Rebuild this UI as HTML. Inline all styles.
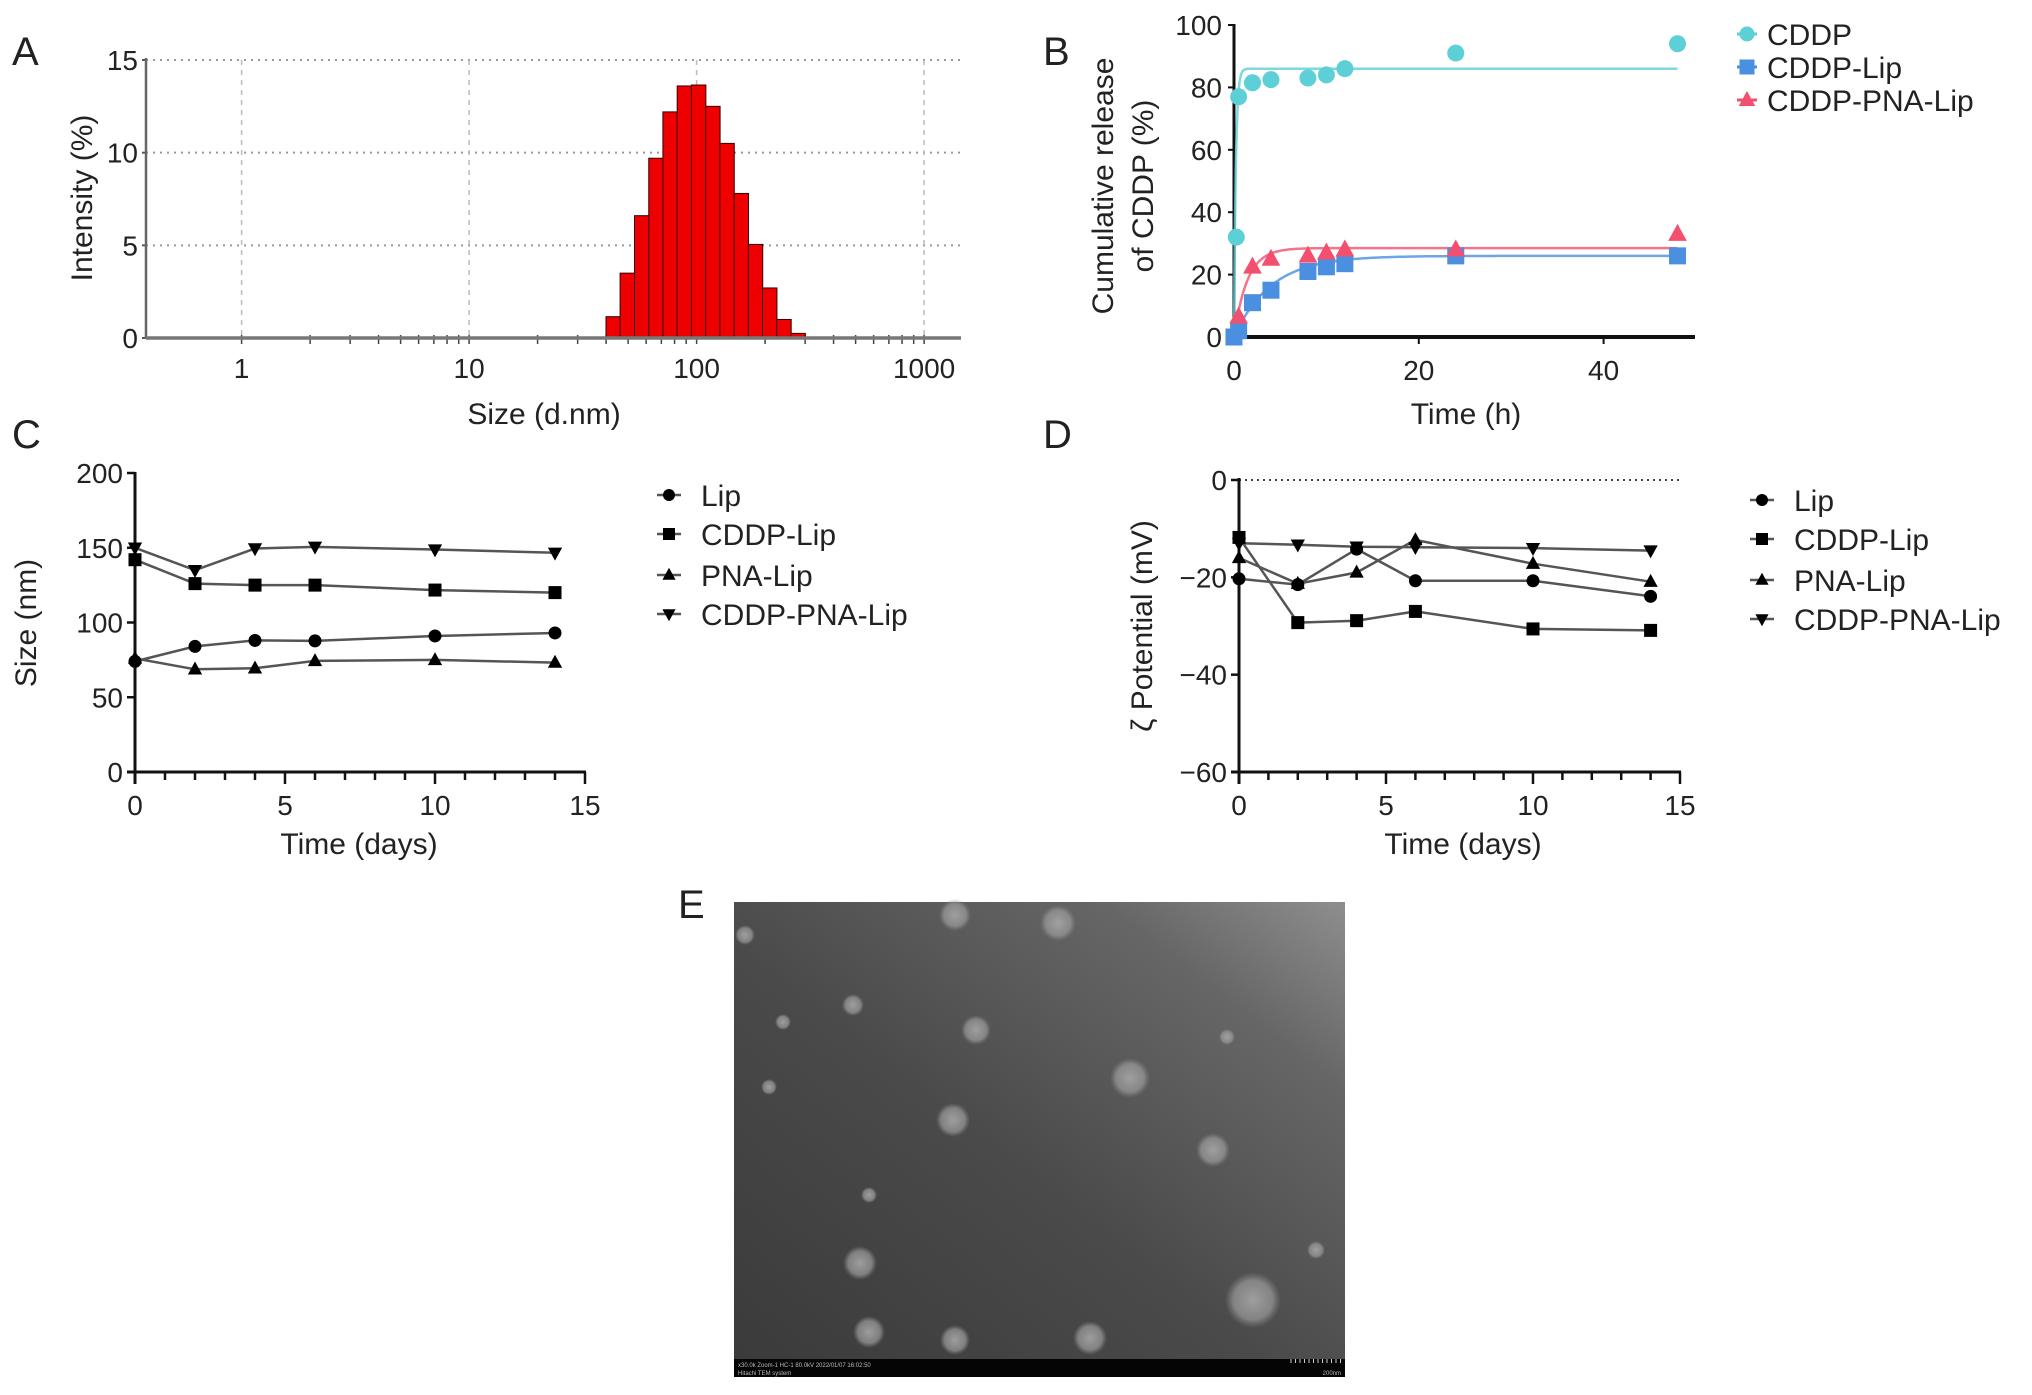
<!DOCTYPE html>
<html><head><meta charset="utf-8"><style>
html,body{margin:0;padding:0;background:#fff}
svg text{font-family:"Liberation Sans",sans-serif;fill:#222}
</style></head><body>
<svg id="fig" xmlns="http://www.w3.org/2000/svg" width="2032" height="1390" viewBox="0 0 2032 1390">
<rect width="2032" height="1390" fill="#fff"/>
<text x="12" y="65" font-size="40">A</text>
<text x="1043" y="65" font-size="40">B</text>
<text x="12" y="448" font-size="40">C</text>
<text x="1043" y="448" font-size="40">D</text>
<text x="678" y="918" font-size="40">E</text>
<text x="544" y="424" font-size="30" text-anchor="middle">Size (d.nm)</text>
<text transform="translate(92,198) rotate(-90)" font-size="30" text-anchor="middle">Intensity (%)</text>
<text x="1466" y="424" font-size="30" text-anchor="middle">Time (h)</text>
<text transform="translate(1113,186) rotate(-90)" font-size="30" text-anchor="middle">Cumulative release</text>
<text transform="translate(1153,186) rotate(-90)" font-size="30" text-anchor="middle">of CDDP (%)</text>
<text x="359" y="854" font-size="30" text-anchor="middle">Time (days)</text>
<text transform="translate(36,623) rotate(-90)" font-size="30" text-anchor="middle">Size (nm)</text>
<text x="1463" y="854" font-size="30" text-anchor="middle">Time (days)</text>
<text transform="translate(1152,626) rotate(-90)" font-size="30" text-anchor="middle">ζ Potential (mV)</text>
<defs>
<linearGradient id="temg" x1="0" y1="1" x2="1" y2="0">
<stop offset="0" stop-color="#3a3a3a"/><stop offset="0.45" stop-color="#4a4a4a"/><stop offset="0.8" stop-color="#666"/><stop offset="1" stop-color="#8e8e8e"/>
</linearGradient>
<radialGradient id="pg"><stop offset="0" stop-color="#a8a8a8" stop-opacity="0.9"/><stop offset="0.7" stop-color="#9a9a9a" stop-opacity="0.7"/><stop offset="1" stop-color="#888" stop-opacity="0"/></radialGradient>
</defs>
<g id="tem">
<rect x="734" y="902" width="611" height="475" fill="url(#temg)"/>
<rect x="734" y="1359" width="611" height="18" fill="#050505"/>
<text x="738" y="1367" font-size="6" style="fill:#bbb">x30.0k Zoom-1 HC-1 80.0kV 2022/01/07 16:02:50</text>
<text x="738" y="1375" font-size="6" style="fill:#bbb">Hitachi TEM system</text>
<text x="1341" y="1375" font-size="6" text-anchor="end" style="fill:#bbb">200nm</text>
</g>
<g id="pa"></g><g id="pb"></g><g id="pc"></g><g id="pd"></g>
</svg>
<script>
const aSizes = [43.0, 49.6, 57.4, 66.3, 76.5, 88.4, 102.1, 117.9, 136.1, 157.2, 181.5, 209.6, 242.1, 279.5];
const aIntensity = [1.15, 3.5, 6.6, 9.7, 12.2, 13.6, 13.65, 12.5, 10.5, 7.8, 5.05, 2.7, 1.0, 0.25];
const aYTicks = [0, 5, 10, 15];
const aXTicks = [1, 10, 100, 1000];
const bTimes = [0.25, 0.5, 2, 4, 8, 10, 12, 24, 48];
const bCDDP = [32, 77, 81.5, 82.5, 83, 84, 86, 91, 94];
const bTimesLip = [0, 0.5, 2, 4, 8, 10, 12, 24, 48];
const bCDDPLip = [0, 2, 11, 15, 21, 22.5, 23.5, 26, 26];
const bTimesPNA = [0.5, 2, 4, 8, 10, 12, 24, 48];
const bCDDPPNA = [6.5, 22.5, 25, 26, 27, 28, 28, 33];
const bFitPlateau = [86, 26, 28.5];
const bFitRate = [5, 0.25, 0.7];
const bYTicks = [0, 20, 40, 60, 80, 100];
const bXTicks = [0, 20, 40];
const bSeriesNames = ["CDDP", "CDDP-Lip", "CDDP-PNA-Lip"];
const cDays = [0, 2, 4, 6, 10, 14];
const cLip = [74, 84, 88, 87.7, 91, 93];
const cCDDPLip = [142, 126, 125, 125, 121.7, 120];
const cPNALip = [76, 68.7, 69.4, 74.3, 75, 73.2];
const cCDDPPNALip = [150, 135, 149.5, 150.6, 148.8, 146.6];
const cYTicks = [0, 50, 100, 150, 200];
const cXTicks = [0, 5, 10, 15];
const dDays = [0, 2, 4, 6, 10, 14];
const dLip = [-20.3, -21.5, -14.2, -20.7, -20.7, -23.9];
const dCDDPLip = [-11.8, -29.3, -28.9, -27, -30.6, -30.9];
const dPNALip = [-16, -21.3, -19, -12.3, -17.2, -20.9];
const dCDDPPNALip = [-13, -13.3, -13.7, -13.8, -14, -14.5];
const dYTicks = [0, -20, -40, -60];
const dXTicks = [0, 5, 10, 15];
const lineNames = ["Lip", "CDDP-Lip", "PNA-Lip", "CDDP-PNA-Lip"];
const temParticles = [[955,915,16],[1058,923,18],[853,1005,11],[783,1022,8],[976,1030,15],[1130,1078,20],[769,1087,8],[953,1120,17],[1213,1150,17],[869,1195,8],[860,1263,17],[1253,1300,28],[869,1332,16],[955,1340,15],[1090,1338,17],[1316,1250,9],[1227,1037,8],[745,935,10]];

const NS = "http://www.w3.org/2000/svg";
function mk(parent, tag, attrs) {
  const e = document.createElementNS(NS, tag);
  for (const k in attrs) e.setAttribute(k, attrs[k]);
  parent.appendChild(e);
  return e;
}
function txt(parent, x, y, s, size, anchor) {
  const t = mk(parent, "text", {x: x, y: y, "font-size": size, "text-anchor": anchor || "middle"});
  t.textContent = s;
  return t;
}
const tem = document.getElementById("tem");
temParticles.forEach(p => {
  const c = mk(tem, "circle", {cx: p[0], cy: p[1], r: p[2], fill: "url(#pg)"});
  
  
});
for (let i = 0; i < 12; i++) {
  const t = mk(tem, "line", {x1: 1291 + i * 4.5, y1: 1359, x2: 1291 + i * 4.5, y2: 1363, stroke: "#ccc", "stroke-width": 1});
  
  
}
const pa = document.getElementById("pa");
const xA = s => 241.6 + 227.5 * Math.log10(s);
const yA = v => 338 - v * (278 / 15);
const halfBinA = 0.0635 / 2;
aYTicks.forEach(v => {
  if (v > 0) {
    const g = mk(pa, "line", {x1: 146, x2: 960, y1: yA(v), y2: yA(v), stroke: "#999", "stroke-width": 2, "stroke-dasharray": "2,5"});
    
    
  }
  const t = txt(pa, 138, yA(v) + 10, String(v), 28, "end");
  
  
  const tk = mk(pa, "line", {x1: 142, x2: 146, y1: yA(v), y2: yA(v), stroke: "#555", "stroke-width": 2});
  
  
});
aXTicks.forEach(s => {
  const g = mk(pa, "line", {x1: xA(s), x2: xA(s), y1: 60, y2: 338, stroke: "#bbb", "stroke-width": 1.5, "stroke-dasharray": "5,5"});
  
  
  const t = txt(pa, xA(s), 378, String(s), 28);
  
  
});
for (let d = 0; d < 4; d++) {
  for (let m = 1; m <= 9; m++) {
    const x = xA(Math.pow(10, d) * m);
    if (x < 146 || x > 960) continue;
    const tk = mk(pa, "line", {x1: x, x2: x, y1: 335, y2: 344, stroke: "#444", "stroke-width": 1.5});
    
    
  }
}
aSizes.forEach((s, i) => {
  const l = Math.log10(s);
  const x0 = xA(Math.pow(10, l - halfBinA)), x1 = xA(Math.pow(10, l + halfBinA));
  const r = mk(pa, "rect", {x: x0, y: yA(aIntensity[i]), width: x1 - x0, height: yA(0) - yA(aIntensity[i]), fill: "#ee0000", stroke: "#300", "stroke-width": 1});
  
  
});
const aY = mk(pa, "line", {x1: 146, x2: 146, y1: 58, y2: 339, stroke: "#666", "stroke-width": 2.5});


const aX = mk(pa, "line", {x1: 146, x2: 961, y1: 338, y2: 338, stroke: "#777", "stroke-width": 3.5});



const pb = document.getElementById("pb");
const xB = t => 1234 + t * 9.24;
const yB = v => 337 - v * 3.12;
const bColors = ["#5dcfd6", "#4a8fe0", "#f2506e"];
bYTicks.forEach(v => {
  const t = txt(pb, 1222, yB(v) + 10, String(v), 28, "end");
  
  
  const tk = mk(pb, "line", {x1: 1228, x2: 1234, y1: yB(v), y2: yB(v), stroke: "#111", "stroke-width": 2});
  
  
});
bXTicks.forEach(v => {
  const t = txt(pb, xB(v), 380, String(v), 28);
  
  
  const tk = mk(pb, "line", {x1: xB(v), x2: xB(v), y1: 337, y2: 344, stroke: "#111", "stroke-width": 2});
  
  
});
const bXAx = mk(pb, "line", {x1: 1233, x2: 1695, y1: 337, y2: 337, stroke: "#111", "stroke-width": 4});


const bYAx = mk(pb, "line", {x1: 1234, x2: 1234, y1: 24, y2: 339, stroke: "#111", "stroke-width": 3});


bFitPlateau.forEach((p, si) => {
  let d = "";
  for (let i = 0; i <= 480; i++) {
    const t = i * 0.1;
    const v = p * (1 - Math.exp(-bFitRate[si] * t));
    d += (i ? "L" : "M") + xB(t).toFixed(1) + "," + yB(v).toFixed(1);
  }
  const path = mk(pb, "path", {d: d, fill: "none", stroke: bColors[si], "stroke-width": 2.5, opacity: 0.8});
  
  
});
function marker(parent, type, x, y, size, color) {
  let e;
  if (type === "circle") e = mk(parent, "circle", {cx: x, cy: y, r: size / 2, fill: color});
  else if (type === "square") e = mk(parent, "rect", {x: x - size / 2, y: y - size / 2, width: size, height: size, fill: color});
  else if (type === "tri") e = mk(parent, "polygon", {points: `${x},${y - size * 0.6} ${x - size * 0.55},${y + size * 0.4} ${x + size * 0.55},${y + size * 0.4}`, fill: color});
  else e = mk(parent, "polygon", {points: `${x},${y + size * 0.6} ${x - size * 0.55},${y - size * 0.4} ${x + size * 0.55},${y - size * 0.4}`, fill: color});
  return e;
}
const bTimeSets = [bTimes, bTimesLip, bTimesPNA];
const bValSets = [bCDDP, bCDDPLip, bCDDPPNA];
const bMarkers = ["circle", "square", "tri"];
bValSets.forEach((vals, si) => {
  vals.forEach((v, i) => {
    const m = marker(pb, bMarkers[si], xB(bTimeSets[si][i]), yB(v), 17, bColors[si]);
    
    
  });
});
bSeriesNames.forEach((n, i) => {
  const y = 34 + i * 33;
  const ln = mk(pb, "line", {x1: 1737, x2: 1757, y1: y, y2: y, stroke: bColors[i], "stroke-width": 3});
  
  
  const m = marker(pb, bMarkers[i], 1747, y, 15, bColors[i]);
  
  
  const t = txt(pb, 1767, y + 11, n, 30, "start");
  
  
});
const lineMarkers = ["circle", "square", "tri", "dtri"];
function linePanel(g, pre, xF, yF, days, series, yTicks, xTicks, x0, y0, xEnd, yTop, legX, legY) {
  yTicks.forEach(v => {
    const t = txt(g, x0 - 12, yF(v) + 10, String(v).replace("-", "\u2212"), 28, "end");
    
    
    const tk = mk(g, "line", {x1: x0 - 8, x2: x0, y1: yF(v), y2: yF(v), stroke: "#111", "stroke-width": 2.5});
    
    
  });
  for (let d = 0; d <= 15; d++) {
    const major = d % 5 === 0;
    const tk = mk(g, "line", {x1: xF(d), x2: xF(d), y1: y0, y2: y0 + (major ? 12 : 8), stroke: "#111", "stroke-width": 2.5});
    
    
  }
  xTicks.forEach(v => {
    const t = txt(g, xF(v), 815, String(v), 28);
    
    
  });
  const ya = mk(g, "line", {x1: x0, x2: x0, y1: yTop, y2: y0 + 12, stroke: "#111", "stroke-width": 3});
  
  
  const xa = mk(g, "line", {x1: x0 - 8, x2: xEnd, y1: y0, y2: y0, stroke: "#111", "stroke-width": 3});
  
  
  series.forEach((vals) => {
    const pts = vals.map((v, i) => xF(days[i]).toFixed(1) + "," + yF(v).toFixed(1)).join(" ");
    const pl = mk(g, "polyline", {points: pts, fill: "none", stroke: "#555", "stroke-width": 2.5});
    
    
  });
  series.forEach((vals, si) => {
    vals.forEach((v, i) => {
      const m = marker(g, lineMarkers[si], xF(days[i]), yF(v), 13, "#000");
      
      
    });
  });
  lineNames.forEach((n, i) => {
    const y = legY[i];
    const ln = mk(g, "line", {x1: legX - 12, x2: legX + 12, y1: y, y2: y, stroke: "#555", "stroke-width": 2.5});
    
    
    const m = marker(g, lineMarkers[i], legX, y, 12, "#000");
    
    
    const t = txt(g, legX + 32, y + 11, n, 30, "start");
    
    
  });
}
const pc = document.getElementById("pc");
const xC = t => 135 + t * 30;
const yC = v => 772 - v * 1.495;
linePanel(pc, "c", xC, yC, cDays, [cLip, cCDDPLip, cPNALip, cCDDPPNALip], cYTicks, cXTicks, 135, 772, 586, 472, 669, [495, 534, 575, 614]);
const pd = document.getElementById("pd");
const xD = t => 1239 + t * 29.4;
const yD = v => 480 - v * 4.867;
const zl = mk(pd, "line", {x1: 1239, x2: 1680, y1: yD(0), y2: yD(0), stroke: "#444", "stroke-width": 2, "stroke-dasharray": "2,4"});


linePanel(pd, "d", xD, yD, dDays, [dLip, dCDDPLip, dPNALip, dCDDPPNALip], dYTicks, dXTicks, 1239, 772, 1681, 478, 1762, [500, 539, 580, 619]);
</script>
</body></html>
